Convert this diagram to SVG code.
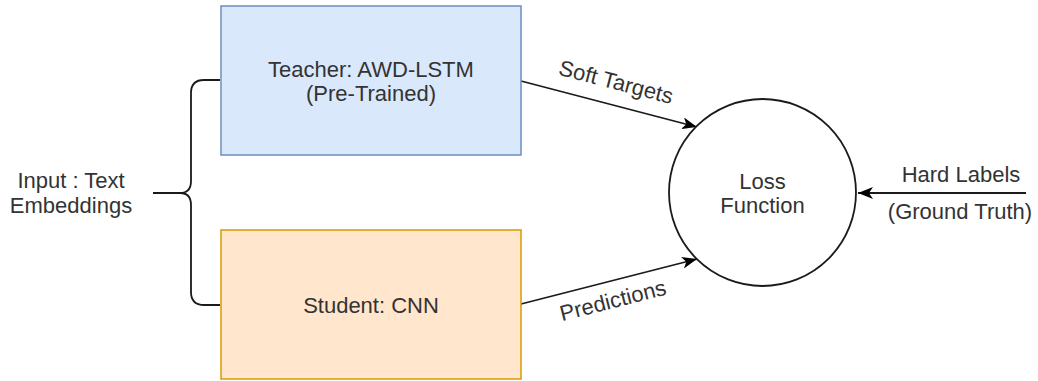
<svg xmlns="http://www.w3.org/2000/svg" width="1038" height="381" viewBox="0 0 1038 381">
<style>
text{font-family:"Liberation Sans",Arial,sans-serif;font-size:22px;fill:#333;text-anchor:middle}
.ln{fill:none;stroke:#1a1a1a;stroke-width:1.8}
</style>
<defs>
<marker id="ah" markerUnits="userSpaceOnUse" markerWidth="18" markerHeight="14" refX="15" refY="6" orient="auto" viewBox="0 0 18 14">
<path d="M0,0 L15,6 L0,12 L4,6 Z" fill="#000"/>
</marker>
</defs>
<rect width="1038" height="381" fill="#fff"/>
<g id="connectors">
<path class="ln" d="M220,80 H204 Q191,80 191,93 V181 Q191,193 180,193 H153 M180,193 Q191,193 191,205 V292 Q191,305 204,305 H220" stroke="#333"/>
<line class="ln" x1="521" y1="81" x2="697" y2="127" marker-end="url(#ah)"/>
<line class="ln" x1="521" y1="304" x2="697" y2="259" marker-end="url(#ah)"/>
<line class="ln" x1="1026" y1="193" x2="858" y2="193" marker-end="url(#ah)"/>
<text transform="rotate(14.6 616 82.5)" x="616" y="89.5">Soft Targets</text>
<text transform="rotate(-14.3 613 301)" x="613" y="308">Predictions</text>
</g>
<g id="input">
<text x="71" y="188">Input : Text</text>
<text x="71" y="213">Embeddings</text>
</g>
<g id="teacher">
<rect x="221" y="6" width="300" height="149" fill="#dae8fc" stroke="#6c8ebf" stroke-width="1.5"/>
<text x="371" y="77">Teacher: AWD-LSTM</text>
<text x="371" y="101">(Pre-Trained)</text>
</g>
<g id="student">
<rect x="221" y="230" width="300" height="149" fill="#ffe6cc" stroke="#d79b00" stroke-width="1.5"/>
<text x="371" y="313">Student: CNN</text>
</g>
<g id="loss">
<circle cx="762.5" cy="192.5" r="93.5" fill="#fff" stroke="#1a1a1a" stroke-width="1.8"/>
<text x="762.5" y="189">Loss</text>
<text x="762.5" y="213">Function</text>
</g>
<g id="hard">
<text x="961" y="182">Hard Labels</text>
<text x="960" y="219">(Ground Truth)</text>
</g>
</svg>
